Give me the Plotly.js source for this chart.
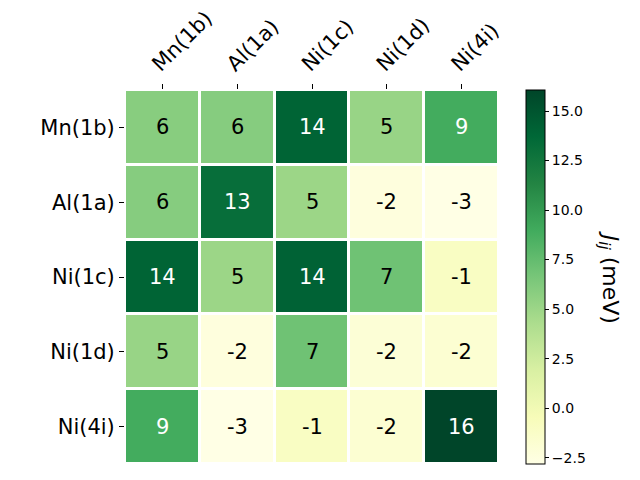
<!DOCTYPE html>
<html>
<head>
<meta charset="utf-8">
<script src="https://cdn.plot.ly/plotly-3.0.1.min.js"></script>
<style>html,body{margin:0;padding:0;background:#fff;}#chart{width:640px;height:480px;}</style>
</head>
<body>
<div id="chart"></div>
<script>
const sites = ["Mn(1b)", "Al(1a)", "Ni(1c)", "Ni(1d)", "Ni(4i)"];
const rowMn1b = [5.9, 6.0, 14.0, 5.2, 8.9];
const rowAl1a = [6.0, 13.2, 5.0, -2.4, -2.82];
const rowNi1c = [14.0, 5.0, 14.1, 7.0, -1.0];
const rowNi1d = [5.2, -2.4, 7.0, -2.0, -1.8];
const rowNi4i = [8.9, -2.82, -1.0, -1.8, 16.06];
const colorbarTicks = [-2.5, 0, 2.5, 5, 7.5, 10, 12.5, 15];

const z = [rowMn1b, rowAl1a, rowNi1c, rowNi1d, rowNi4i];

const ylgn = [
  [0.0, "#ffffe5"], [0.125, "#f7fcb9"], [0.25, "#d9f0a3"], [0.375, "#addd8e"],
  [0.5, "#78c679"], [0.625, "#41ab5d"], [0.75, "#238443"], [0.875, "#006837"], [1.0, "#004529"]
];
const zmin = -2.82, zmax = 16.06;

const annotations = [];
z.forEach((row, i) => {
  row.forEach((v, j) => {
    annotations.push({
      x: sites[j], y: sites[i], xref: "x", yref: "y",
      text: String(Math.round(v)), showarrow: false,
      font: {family: "DejaVu Sans", size: 21, color: v > 8 ? "#ffffff" : "#000000"}
    });
  });
});
annotations.push({
  xref: "paper", yref: "paper", x: 1.295, y: 0.5, xanchor: "center", yanchor: "middle",
  text: "<i>J</i><sub><i>ij</i></sub> (meV)", textangle: 90, showarrow: false,
  font: {family: "DejaVu Sans", size: 22, color: "#000"}
});

const trace = {
  type: "heatmap",
  x: sites, y: sites, z: z,
  colorscale: ylgn, zmin: zmin, zmax: zmax,
  xgap: 3, ygap: 3,
  hoverinfo: "none",
  colorbar: {
    x: 1.0722, xanchor: "left", xpad: 0, xref: "paper",
    y: 0.5, yanchor: "middle", ypad: 0, len: 1, lenmode: "fraction",
    thickness: 19, thicknessmode: "pixels",
    outlinewidth: 1, outlinecolor: "#000",
    ticks: "outside", ticklen: 4, tickcolor: "#000",
    tickvals: colorbarTicks, tickformat: ".1f",
    tickfont: {family: "DejaVu Sans", size: 14, color: "#000"}
  }
};

const layout = {
  width: 640, height: 480,
  margin: {l: 125, r: 141, t: 90, b: 16},
  paper_bgcolor: "#fff", plot_bgcolor: "#fff",
  font: {family: "DejaVu Sans", color: "#000"},
  xaxis: {
    side: "top", tickangle: -45, ticks: "outside", ticklen: 5, tickcolor: "#000",
    ticklabelshift: -9,
    showgrid: false, zeroline: false, showline: false,
    tickfont: {family: "DejaVu Sans", size: 21, color: "#000"}
  },
  yaxis: {
    autorange: "reversed", ticks: "outside", ticklen: 5, tickcolor: "#000",
    showgrid: false, zeroline: false, showline: false,
    tickfont: {family: "DejaVu Sans", size: 21, color: "#000"}
  },
  annotations: annotations
};

Plotly.newPlot("chart", [trace], layout, {displayModeBar: false, staticPlot: true});
</script>
</body>
</html>
